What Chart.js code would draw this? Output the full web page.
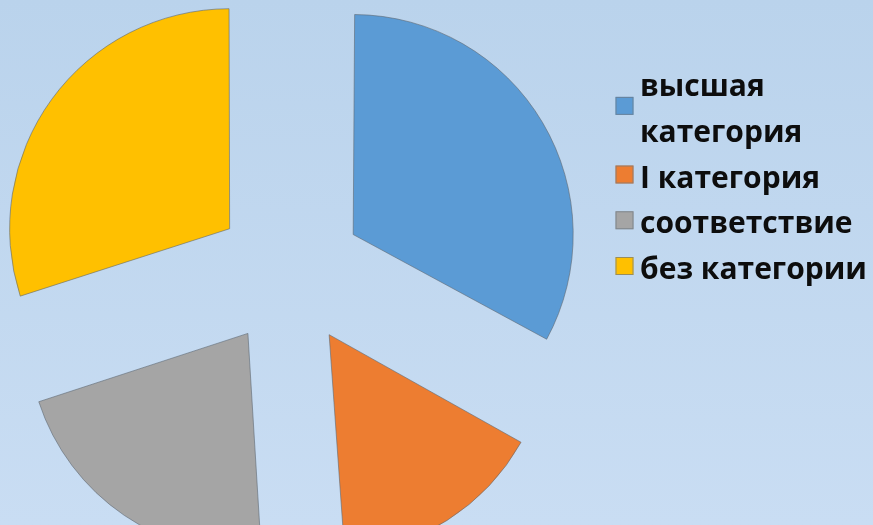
<!DOCTYPE html>
<html>
<head>
<meta charset="utf-8">
<script src="https://cdn.jsdelivr.net/npm/chart.js@4"></script>
<style>
  html, body { margin: 0; padding: 0; overflow: hidden; }
  body {
    width: 873px; height: 525px;
    background: linear-gradient(to bottom, #bad3ec, #c9ddf3);
  }
  canvas { display: block; }
</style>
</head>
<body>
<canvas id="myChart" width="873" height="525"></canvas>
<script>
// staff by qualification category, percent
var categories = [['высшая', 'категория'], 'I категория', 'соответствие', 'без категории'];
var shares = [33, 16, 21, 30];
var colors = ['#5b9bd5', '#ed7d31', '#a5a5a5', '#ffc000'];

// ArcElement widens narrow slices by offset/4 * (1 - sin(angle)); take that back
// so every exploded slice keeps the same radius
var evenRadius = {
  id: 'evenRadius',
  afterDatasetUpdate: function(chart, args) {
    args.meta.data.forEach(function(arc) {
      var shift = (arc.options.offset || 0) / 4;
      arc.outerRadius -= shift * (1 - Math.sin(Math.min(Math.PI, arc.circumference)));
    });
  }
};

// legend on the right: square box, bold text, wrapped labels keep the box centred
var sideLegend = {
  id: 'sideLegend',
  afterDraw: function(chart, args, opts) {
    var ctx = chart.ctx;
    var items = chart.options.plugins.legend.labels.generateLabels(chart);
    var y = opts.top;
    ctx.save();
    ctx.font = 'bold ' + opts.size + 'px ' + opts.family;
    ctx.textBaseline = 'alphabetic';
    items.forEach(function(item) {
      var lines = [].concat(item.text);
      var mid = y + (lines.length - 1) * opts.step / 2 - opts.raise;
      ctx.fillStyle = item.fillStyle;
      ctx.fillRect(opts.x, mid - opts.box / 2, opts.box, opts.box);
      ctx.strokeStyle = 'rgba(110,120,130,0.7)';
      ctx.lineWidth = 1;
      ctx.strokeRect(opts.x + 0.5, mid - opts.box / 2 + 0.5, opts.box - 1, opts.box - 1);
      ctx.fillStyle = opts.color;
      lines.forEach(function(line, i) {
        ctx.fillText(line, opts.textX, y + i * opts.step);
      });
      y += lines.length * opts.step;
    });
    ctx.restore();
  }
};

var chartdata = {
  labels: categories,
  datasets: [
    {
      data: shares,
      backgroundColor: colors,
      borderColor: 'rgba(95,105,115,0.6)',
      borderWidth: 1,
      offset: 296,
      hoverOffset: 0,
      radius: 220,
      clip: false
    }
  ]
};

var options = {
  responsive: false,
  animation: false,
  events: [],
  layout: {
    padding: { left: 0, right: 294, top: 19.4, bottom: 0 }
  },
  plugins: {
    legend: { display: false },
    tooltip: { enabled: false },
    sideLegend: {
      x: 615.5, textX: 640, top: 96, step: 45.75, raise: 13, box: 18,
      size: 30, family: '"Open Sans", sans-serif', color: '#0d0d0d'
    }
  }
};

var graph = new Chart(document.getElementById('myChart'), {
  type: 'pie',
  data: chartdata,
  options: options,
  plugins: [evenRadius, sideLegend]
});
</script>
</body>
</html>
